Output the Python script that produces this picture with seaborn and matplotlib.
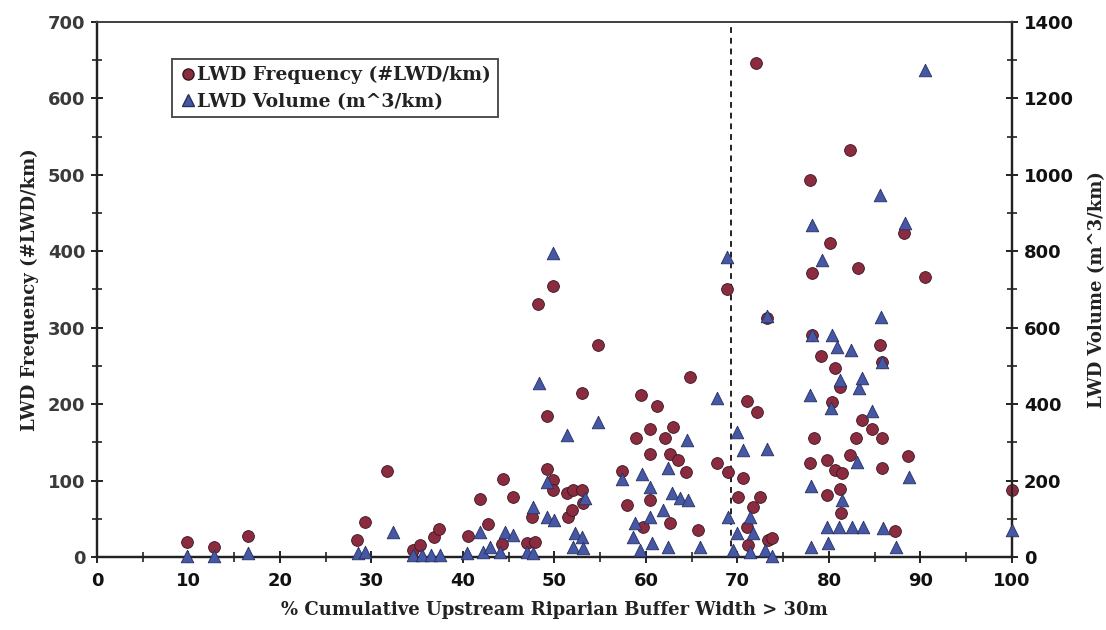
import matplotlib
matplotlib.use("Agg")
import matplotlib.pyplot as plt
import seaborn as sns
import pandas as pd
from matplotlib.ticker import MultipleLocator
from matplotlib.lines import Line2D

# LWD frequency (#LWD/km) against % cumulative buffer width
freq_x = [9.8, 12.8, 16.5, 28.4, 29.3, 31.7, 34.5, 35.3, 36.8, 37.4, 40.5, 41.9, 42.7,
          44.3, 44.4, 45.5, 47.0, 47.5, 47.9, 48.2, 49.2, 49.2, 49.8, 49.8, 49.8, 51.4,
          51.5, 51.9, 52.0, 53.0, 53.1, 53.0, 54.8, 57.4, 57.9, 58.9, 59.5, 59.7, 60.4,
          60.4, 60.4, 61.2, 62.1, 62.6, 62.6, 63.0, 63.5, 64.4, 64.8, 65.7, 67.8, 68.9,
          69.0, 70.1, 70.6, 71.0, 71.0, 71.1, 71.7, 72.0, 72.1, 72.5, 73.2, 73.3, 73.8,
          77.9, 77.9, 78.1, 78.1, 78.4, 79.1, 79.8, 79.8, 80.1, 80.3, 80.7, 80.7, 81.2,
          81.2, 81.3, 81.4, 82.3, 82.3, 82.9, 83.2, 83.6, 84.7, 85.6, 85.8, 85.8, 85.8,
          87.2, 88.2, 88.6, 90.5, 100.0]
freq_y = [20, 13, 27, 22, 46, 113, 9, 16, 26, 37, 27, 76, 43,
          17, 102, 79, 18, 52, 20, 331, 185, 115, 355, 101, 88, 84,
          52, 62, 88, 88, 70, 215, 277, 113, 68, 156, 212, 39, 167,
          135, 75, 198, 156, 135, 44, 170, 127, 111, 236, 35, 123, 351,
          111, 79, 103, 204, 39, 16, 65, 646, 190, 79, 313, 22, 25,
          123, 493, 372, 290, 156, 263, 127, 81, 411, 203, 247, 114, 223,
          89, 57, 110, 533, 133, 156, 378, 179, 167, 277, 255, 156, 116,
          34, 424, 132, 366, 88]

# LWD volume (m^3/km) against % cumulative buffer width
vol_x = [9.8, 12.8, 16.5, 28.5, 29.3, 32.3, 34.5, 35.5, 36.5, 37.5, 40.4, 41.9, 42.2,
         42.9, 44.0, 44.6, 45.5, 47.0, 47.6, 47.7, 48.3, 49.2, 49.2, 49.8, 50.0, 51.4,
         52.0, 52.2, 53.0, 53.1, 53.3, 54.8, 57.4, 58.6, 58.8, 59.3, 59.6, 60.4, 60.4,
         60.7, 61.9, 62.4, 62.4, 62.8, 63.7, 64.5, 64.6, 65.9, 67.8, 68.9, 69.0, 69.5,
         70.0, 70.0, 70.6, 71.4, 71.4, 71.7, 73.0, 73.2, 73.2, 73.8, 78.0, 78.0, 77.9,
         78.1, 78.1, 79.2, 79.8, 79.9, 80.2, 80.3, 80.9, 81.1, 81.2, 81.4, 82.4, 82.5,
         83.1, 83.3, 83.6, 83.7, 84.7, 85.6, 85.7, 85.8, 85.9, 87.3, 88.3, 88.7, 90.5,
         100.0]
vol_y = [3, 3, 10, 10, 13, 65, 5, 5, 5, 5, 10, 65, 13,
         26, 13, 65, 57, 13, 10, 131, 455, 196, 105, 796, 97, 319,
         26, 63, 52, 23, 154, 354, 204, 52, 89, 18, 217, 183, 105,
         37, 123, 233, 26, 167, 154, 306, 149, 26, 416, 785, 105, 18,
         327, 63, 280, 105, 13, 63, 18, 282, 631, 3, 186, 26, 424,
         869, 580, 777, 78, 37, 390, 581, 550, 78, 463, 149, 542, 78,
         249, 442, 469, 78, 382, 948, 628, 510, 76, 26, 874, 209, 1275,
         71]

threshold_x = 69.3
x_ticks = [0, 10, 20, 30, 40, 50, 60, 70, 80, 90, 100]
left_ticks = [0, 100, 200, 300, 400, 500, 600, 700]
right_ticks = [0, 200, 400, 600, 800, 1000, 1200, 1400]

freq_label = "LWD Frequency (#LWD/km)"
vol_label = "LWD Volume (m^3/km)"

freq_df = pd.DataFrame({"x": freq_x, "y": freq_y})
vol_df = pd.DataFrame({"x": vol_x, "y": vol_y})

sns.set_theme(style="white")
plt.rcParams["font.family"] = ["DejaVu Serif"]

red = "#8A2B40"
blue = "#4657A6"
tick_font = {"family": "DejaVu Sans", "weight": "bold", "size": 13}
label_font = {"family": "DejaVu Serif", "weight": "bold", "size": 13}

fig = plt.figure(figsize=(11.06, 6.30), dpi=100)
ax = fig.add_axes([0.0877, 0.1159, 0.8273, 0.8492])
ax2 = ax.twinx()

sns.scatterplot(data=freq_df, x="x", y="y", ax=ax, marker="o", s=72,
                color=red, edgecolor="#3a1520", linewidth=0.6, zorder=3, clip_on=False)
sns.scatterplot(data=vol_df, x="x", y="y", ax=ax2, marker="^", s=82,
                color=blue, edgecolor="#26305e", linewidth=0.6, zorder=3, clip_on=False)

ax.axvline(threshold_x, color="#222222", linestyle=(0, (3, 2.5)), linewidth=1.4, zorder=2)

ax.set_xlim(0, 100)
ax.set_ylim(0, 700)
ax2.set_ylim(0, 1400)

ax.set_xticks(x_ticks)
ax.set_yticks(left_ticks)
ax2.set_yticks(right_ticks)
ax.xaxis.set_minor_locator(MultipleLocator(5))
ax.yaxis.set_minor_locator(MultipleLocator(50))
ax2.yaxis.set_minor_locator(MultipleLocator(100))

for a in (ax, ax2):
    a.tick_params(which="major", direction="inout", length=9, width=1.4, color="#222222")
    a.tick_params(which="minor", direction="inout", length=7, width=1.2, color="#222222")
ax.tick_params(axis="x", which="both", bottom=True, top=False)
ax.tick_params(axis="y", which="both", left=True, right=False)
ax2.tick_params(axis="y", which="both", right=True, left=False)

ax.set_xticklabels([str(t) for t in x_ticks], fontdict=tick_font, color="#111111")
ax.set_yticklabels([str(t) for t in left_ticks], fontdict=tick_font, color="#3a3a3a")
ax2.set_yticklabels([str(t) for t in right_ticks], fontdict=tick_font, color="#111111")
ax.tick_params(axis="x", pad=6)
ax.tick_params(axis="y", pad=4)
ax2.tick_params(axis="y", pad=4)

ax.set_xlabel("% Cumulative Upstream Riparian Buffer Width > 30m", fontdict=label_font,
              labelpad=8, color="#222222")
ax.set_ylabel(freq_label, fontdict=label_font, labelpad=6, color="#222222")
ax2.set_ylabel(vol_label, fontdict=label_font, labelpad=10, color="#222222")

for a in (ax, ax2):
    for side in ("left", "right", "bottom"):
        a.spines[side].set_color("#222222")
        a.spines[side].set_linewidth(1.6)
    a.spines["top"].set_linestyle((0, (1, 1)))
    a.spines["top"].set_linewidth(1.3)
    a.spines["top"].set_color("#444444")

handles = [
    Line2D([], [], marker="o", linestyle="none", markersize=8, color=red,
           markeredgecolor="#3a1520", label=freq_label),
    Line2D([], [], marker="^", linestyle="none", markersize=9, color=blue,
           markeredgecolor="#26305e", label=vol_label),
]
leg = ax.legend(handles=handles, loc="upper left", bbox_to_anchor=(0.082, 0.93),
                frameon=True, fancybox=False, borderpad=0.35, handletextpad=0.0,
                handlelength=1.0, labelspacing=0.45, borderaxespad=0.0,
                prop={"family": "DejaVu Serif", "weight": "bold", "size": 13.5})
leg.get_frame().set_edgecolor("#222222")
leg.get_frame().set_linewidth(1.4)
for t in leg.get_texts():
    t.set_color("#222222")

fig.savefig("out.png", dpi=100, facecolor="white")
